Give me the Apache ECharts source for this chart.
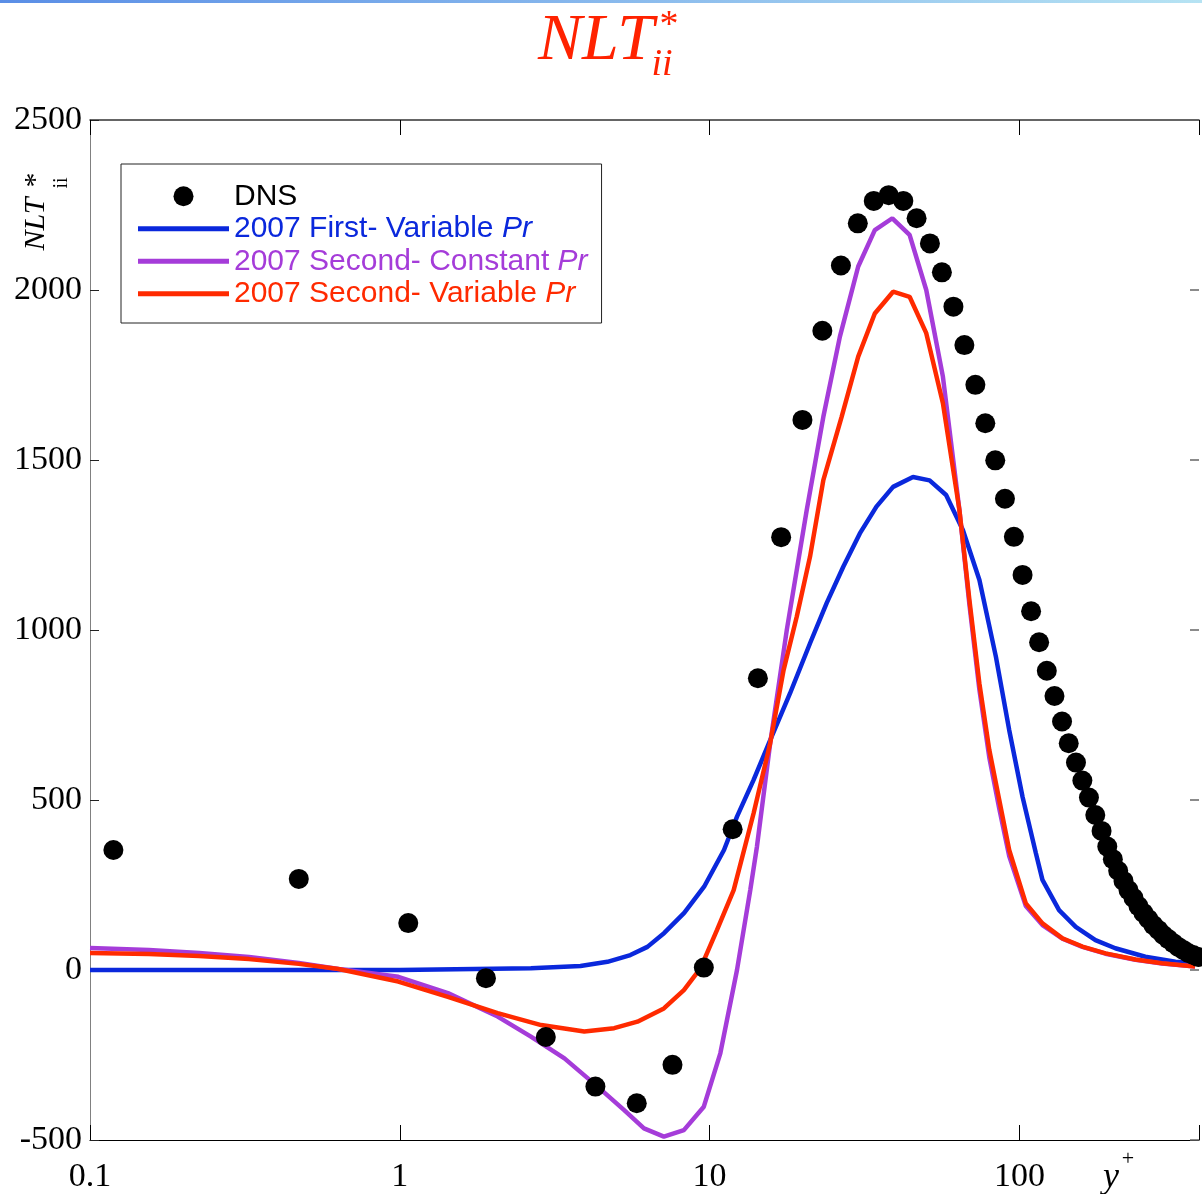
<!DOCTYPE html>
<html>
<head>
<meta charset="utf-8">
<script src="https://cdn.jsdelivr.net/npm/echarts@6/dist/echarts.min.js"></script>
<style>
html,body{margin:0;padding:0;background:#fff;}
#chart{width:1202px;height:1194px;}
</style>
</head>
<body>
<div id="chart"></div>
<script>
// ---- data ----
const xTickLabels = ['0.1', '1', '10', '100'];

const dnsX = [0.119, 0.472, 1.065, 1.897, 2.96, 4.28, 5.82, 7.59, 9.58, 11.87, 14.32, 17.02, 19.94, 23.12, 26.54, 30.09, 33.88, 37.86, 42.21, 46.58, 51.43, 56.22, 61.25, 66.44, 72.10, 77.62, 83.58, 89.83, 96.0, 102.4, 109.1, 115.8, 122.6, 129.8, 137.3, 144.3, 152.3, 159.7, 167.7, 175.8, 184.2, 192.2, 200.3, 208.4, 216.8, 225.0, 233.5, 242.3, 251.4, 260.9, 270.7, 280.9, 291.5, 302.5, 313.9, 325.7, 338.0, 350.7, 363.9, 377.7];
const dnsY = [353, 268, 138, -24, -197, -343, -392, -279, 7, 414, 858, 1273, 1618, 1880, 2072, 2196, 2262, 2279, 2262, 2211, 2137, 2052, 1951, 1838, 1721, 1608, 1499, 1386, 1274, 1162, 1055, 964, 880, 806, 731, 667, 610, 557, 507, 456, 409, 363, 326, 292, 262, 235, 212, 188, 168, 150, 132, 118, 103, 91, 79, 68, 59, 50, 44, 38];

const firstVarX = [0.1, 1.0, 2.65, 3.83, 4.68, 5.55, 6.30, 7.14, 8.28, 9.60, 11.13, 12.26, 13.87, 15.69, 18.19, 21.10, 23.87, 27.01, 30.55, 34.56, 39.11, 45.35, 51.3, 58.0, 65.7, 74.3, 84.0, 92.7, 102.4, 113.0, 118.7, 134.3, 152, 176, 204, 255, 319, 369];
const firstVarY = [0, 0, 5, 12, 24, 44, 68, 109, 168, 245, 353, 451, 559, 676, 814, 961, 1079, 1186, 1284, 1363, 1421, 1450, 1440, 1397, 1294, 1147, 921, 706, 509, 344, 265, 176, 127, 88, 64, 39, 24, 20];

const secConstX = [0.1, 0.155, 0.225, 0.326, 0.472, 0.634, 0.989, 1.43, 2.07, 2.65, 3.40, 4.35, 5.30, 6.14, 7.12, 8.26, 9.58, 10.83, 12.26, 13.53, 14.22, 15.69, 17.75, 19.59, 20.59, 23.29, 26.34, 30.18, 34.14, 38.90, 44.22, 50.05, 56.64, 64.03, 68.97, 74.27, 79.97, 86.1, 92.7, 104.9, 118.7, 137.7, 159.7, 189.7, 236.9, 288.7, 369];
const secConstY = [65, 59, 50, 38, 21, 3, -20, -68, -137, -196, -260, -343, -412, -466, -490, -471, -402, -245, 0, 235, 363, 667, 1000, 1235, 1353, 1627, 1863, 2069, 2176, 2211, 2162, 2000, 1745, 1353, 1075, 825, 625, 475, 335, 188, 132, 92, 68, 48, 30, 19, 10];

const secVarX = [0.1, 0.155, 0.225, 0.326, 0.472, 0.634, 0.989, 1.43, 2.07, 2.86, 3.94, 4.92, 5.85, 7.12, 8.26, 9.34, 10.57, 11.96, 13.87, 15.69, 17.33, 19.11, 21.10, 23.29, 26.68, 30.18, 34.14, 39.11, 44.22, 50.05, 56.64, 64.03, 68.97, 74.27, 79.97, 86.1, 92.7, 104.9, 118.7, 137.7, 159.7, 189.7, 236.9, 288.7, 369];
const secVarY = [50, 47, 41, 32, 18, 3, -34, -79, -127, -162, -181, -171, -152, -113, -59, 5, 118, 235, 461, 667, 882, 1039, 1216, 1441, 1627, 1804, 1931, 1995, 1980, 1873, 1667, 1353, 1088, 843, 647, 500, 353, 196, 137, 93, 69, 49, 31, 20, 10];

const seriesNames = ['DNS', '2007 First- Variable Pr', '2007 Second- Constant Pr', '2007 Second- Variable Pr'];
const colors = ['#000000', '#0A28DC', '#A53CD9', '#FF2A00'];

function pairs(xs, ys) { return xs.map((x, i) => [x, ys[i]]); }

const chart = echarts.init(document.getElementById('chart'), null, {renderer: 'canvas'});

const serif = "'Liberation Serif', 'Times New Roman', serif";
const sans = "'Liberation Sans', Arial, sans-serif";
const GL = 90, GT = 120, GW = 1114, GH = 1020;
const FS = 30;

function isDecade(v) {
  const l = Math.log10(v);
  return Math.abs(l - Math.round(l)) < 1e-6;
}

const legendRich = {
  k: {color: colors[0], fontSize: FS, fontFamily: sans},
  b: {color: colors[1], fontSize: FS, fontFamily: sans},
  bi: {color: colors[1], fontSize: FS, fontFamily: sans, fontStyle: 'italic'},
  p: {color: colors[2], fontSize: FS, fontFamily: sans},
  pi: {color: colors[2], fontSize: FS, fontFamily: sans, fontStyle: 'italic'},
  r: {color: colors[3], fontSize: FS, fontFamily: sans},
  ri: {color: colors[3], fontSize: FS, fontFamily: sans, fontStyle: 'italic'}
};
const richKeys = ['k', 'b', 'p', 'r'];
const lineIcon = 'path://M0 0H90V5H0Z';

const option = {
  backgroundColor: '#ffffff',
  animation: false,
  grid: {left: GL, top: GT, width: GW, height: GH, containLabel: false},
  legend: {
    orient: 'vertical',
    left: 121, top: 164,
    backgroundColor: '#fff',
    borderColor: '#222', borderWidth: 1,
    padding: [16, 14, 13, 17],
    itemWidth: 91, itemHeight: 20, itemGap: 0,
    textStyle: {fontSize: FS, lineHeight: 32.5, fontFamily: sans, rich: legendRich},
    formatter: function (name) {
      const i = seriesNames.indexOf(name);
      const k = richKeys[i];
      if (i === 0) return '{k|DNS}';
      const base = name.slice(0, name.length - 2);
      return '{' + k + '|' + base + '}{' + k + 'i|Pr}';
    },
    data: [
      {name: seriesNames[0], icon: 'circle'},
      {name: seriesNames[1], icon: lineIcon, itemStyle: {color: colors[1]}},
      {name: seriesNames[2], icon: lineIcon, itemStyle: {color: colors[2]}},
      {name: seriesNames[3], icon: lineIcon, itemStyle: {color: colors[3]}}
    ]
  },
  xAxis: [{
    type: 'log', logBase: 10, min: 0.1, max: 380,
    position: 'bottom',
    axisLine: {show: true, onZero: false, lineStyle: {color: '#000', width: 1.2}},
    axisTick: {show: true, inside: true, length: 15, lineStyle: {color: '#000', width: 1}},
    minorTick: {show: false},
    splitLine: {show: false},
    axisLabel: {
      show: true, margin: 20, fontSize: 34, fontFamily: serif, color: '#000',
      formatter: function (v) {
        if (!isDecade(v)) return '';
        const idx = Math.round(Math.log10(v)) + 1;
        return xTickLabels[idx] || '';
      }
    }
  }, {
    type: 'log', logBase: 10, min: 0.1, max: 380,
    position: 'top',
    axisLine: {show: true, onZero: false, lineStyle: {color: '#333', width: 1.5}},
    axisTick: {show: true, inside: true, length: 15, lineStyle: {color: '#000', width: 1}},
    splitLine: {show: false},
    axisLabel: {show: false}
  }],
  yAxis: [{
    type: 'value', min: -500, max: 2500, interval: 500,
    position: 'left',
    axisLine: {show: true, onZero: false, lineStyle: {color: '#808080', width: 1}},
    axisTick: {show: true, inside: true, length: 9, lineStyle: {color: '#222', width: 1}},
    splitLine: {show: false},
    axisLabel: {show: true, margin: 8, fontSize: 34, fontFamily: serif, color: '#000',
      formatter: function (v) { return String(v); }}
  }, {
    type: 'value', min: -500, max: 2500, interval: 500,
    position: 'right',
    axisLine: {show: false, onZero: false},
    axisTick: {show: true, inside: true, length: 9, lineStyle: {color: '#666', width: 1.5}},
    splitLine: {show: false},
    axisLabel: {show: false}
  }],
  series: [
    {
      name: seriesNames[1], type: 'line', data: pairs(firstVarX, firstVarY),
      symbol: 'none', showSymbol: false, smooth: false, z: 2,
      lineStyle: {color: colors[1], width: 4.5}, itemStyle: {color: colors[1]}
    },
    {
      name: seriesNames[2], type: 'line', data: pairs(secConstX, secConstY),
      symbol: 'none', showSymbol: false, smooth: false, z: 3,
      lineStyle: {color: colors[2], width: 4.5}, itemStyle: {color: colors[2]}
    },
    {
      name: seriesNames[3], type: 'line', data: pairs(secVarX, secVarY),
      symbol: 'none', showSymbol: false, smooth: false, z: 4,
      lineStyle: {color: colors[3], width: 4.5}, itemStyle: {color: colors[3]}
    },
    {
      name: seriesNames[0], type: 'scatter', data: pairs(dnsX, dnsY),
      symbol: 'circle', symbolSize: 20, z: 6,
      itemStyle: {color: colors[0], opacity: 1}
    }
  ],
  graphic: [
    {
      type: 'rect', left: 0, top: 0, z: 100,
      shape: {width: 1202, height: 3},
      style: {fill: new echarts.graphic.LinearGradient(0, 0, 1, 0, [
        {offset: 0, color: '#5a8ee6'}, {offset: 1, color: '#b6e3f3'}
      ])}
    },
    // title NLT*_ii
    {type: 'text', x: 596, y: 42, z: 100,
      style: {text: 'NLT', fontSize: 66, fontStyle: 'italic', fontFamily: serif, fill: '#FF2200', align: 'center', verticalAlign: 'middle'}},
    {type: 'text', x: 669, y: 26, z: 100,
      style: {text: '*', fontSize: 38, fontFamily: serif, fill: '#FF2200', align: 'center', verticalAlign: 'middle'}},
    {type: 'text', x: 662, y: 65, z: 100,
      style: {text: 'ii', fontSize: 38, fontStyle: 'italic', fontFamily: serif, fill: '#FF2200', align: 'center', verticalAlign: 'middle'}},
    // y axis name
    {type: 'text', x: 36, y: 224, rotation: Math.PI / 2, z: 100,
      style: {text: 'NLT', fontSize: 30, fontStyle: 'italic', fontFamily: serif, fill: '#000', align: 'center', verticalAlign: 'middle'}},
    {type: 'text', x: 36, y: 180, rotation: Math.PI / 2, z: 100,
      style: {text: '*', fontSize: 30, fontFamily: serif, fill: '#000', align: 'center', verticalAlign: 'middle'}},
    {type: 'text', x: 62, y: 183, rotation: Math.PI / 2, z: 100,
      style: {text: 'ii', fontSize: 20, fontFamily: serif, fill: '#000', align: 'center', verticalAlign: 'middle'}},
    // x axis name y+
    {type: 'text', x: 1111, y: 1178, z: 100,
      style: {text: 'y', fontSize: 36, fontStyle: 'italic', fontFamily: serif, fill: '#000', align: 'center', verticalAlign: 'middle'}},
    {type: 'text', x: 1128, y: 1159, z: 100,
      style: {text: '+', fontSize: 22, fontFamily: serif, fill: '#000', align: 'center', verticalAlign: 'middle'}}
  ]
};

chart.setOption(option);
</script>
</body>
</html>
